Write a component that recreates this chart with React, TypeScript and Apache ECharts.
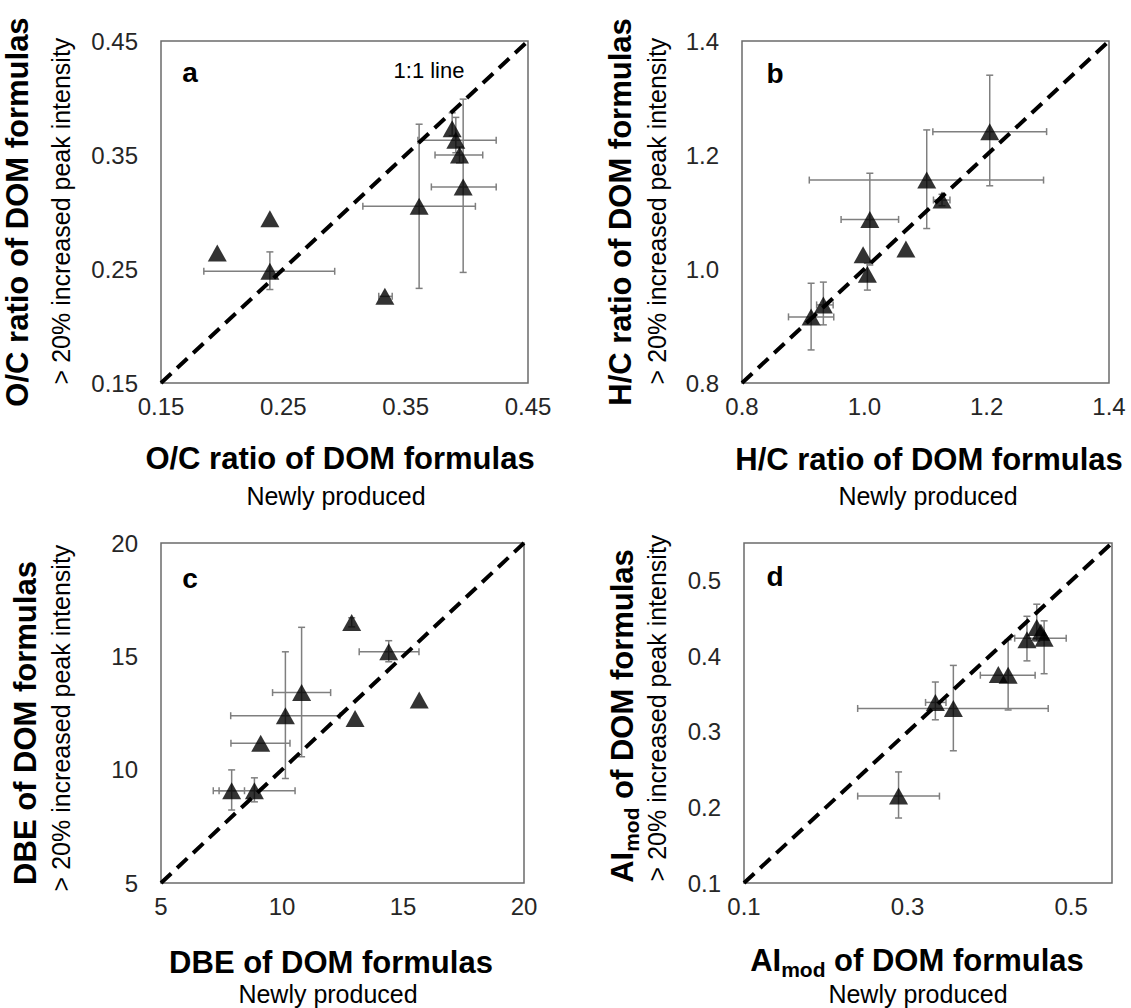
import React, { useEffect, useRef } from "react";
import * as echarts from "echarts";

// Panel a: O/C ratio
const aX = [0.196, 0.239, 0.239, 0.333, 0.361, 0.397, 0.394, 0.391, 0.388];
const aY = [0.264, 0.294, 0.248, 0.226, 0.305, 0.322, 0.35, 0.363, 0.373];
const aXLo = [null, null, 0.185, 0.328, 0.315, 0.371, 0.374, 0.36, null];
const aXHi = [null, null, 0.292, 0.339, 0.407, 0.424, 0.413, 0.424, null];
const aYLo = [null, null, 0.232, null, 0.233, 0.247, 0.343, 0.352, 0.367];
const aYHi = [null, null, 0.265, null, 0.377, 0.399, 0.357, 0.383, 0.387];

// Panel b: H/C ratio
const bX = [1.205, 1.102, 1.127, 1.009, 0.998, 1.068, 1.005, 0.933, 0.913];
const bY = [1.241, 1.156, 1.121, 1.087, 1.025, 1.035, 0.991, 0.937, 0.916];
const bXLo = [1.112, 0.91, 1.113, 0.962, null, null, null, 0.922, 0.876];
const bXHi = [1.298, 1.293, 1.14, 1.056, null, null, null, 0.949, 0.95];
const bYLo = [1.146, 1.071, 1.111, 1.007, null, null, 0.963, 0.902, 0.858];
const bYHi = [1.34, 1.244, 1.131, 1.168, null, null, 1.01, 0.977, 0.975];

// Panel c: DBE
const cX = [12.88, 14.41, 15.67, 13.02, 10.81, 10.14, 9.12, 7.92, 8.86];
const cY = [16.49, 15.2, 13.07, 12.26, 13.4, 12.38, 11.16, 9.07, 9.07];
const cXLo = [null, 13.19, null, null, 9.61, 7.88, 7.89, 7.4, 7.16];
const cXHi = [null, 15.66, null, null, 12.01, 12.4, 10.33, 8.45, 10.54];
const cYLo = [16.3, 14.76, null, null, 10.57, 9.61, null, 8.22, 8.58];
const cYHi = [16.7, 15.69, null, null, 16.28, 15.2, null, 9.99, 9.64];

// Panel d: AImod
const dX = [0.289, 0.334, 0.356, 0.411, 0.423, 0.446, 0.458, 0.467, 0.463];
const dY = [0.215, 0.339, 0.331, 0.376, 0.375, 0.422, 0.438, 0.424, 0.432];
const dXLo = [0.239, 0.322, 0.239, null, 0.389, null, null, 0.431, null];
const dXHi = [0.339, 0.347, 0.472, null, 0.456, null, null, 0.494, null];
const dYLo = [0.186, 0.316, 0.275, null, 0.329, 0.394, 0.42, 0.377, null];
const dYHi = [0.247, 0.366, 0.388, null, 0.422, 0.453, 0.469, 0.447, null];

// Axis ranges / ticks [min, max, interval]
const aRange = [0.15, 0.45, 0.1];
const bRange = [0.8, 1.4, 0.2];
const cRange = [5, 20, 5];
const dXRange = [0.1, 0.55, 0.2];
const dYRange = [0.1, 0.55, 0.1];

const FONT = '"Liberation Sans", Arial, Helvetica, sans-serif';

type Panel = {
  x: number[]; y: number[];
  xlo: (number | null)[]; xhi: (number | null)[];
  ylo: (number | null)[]; yhi: (number | null)[];
  xr: number[]; yr: number[]; dec: number; hideMax: boolean;
  grid: { left: number; top: number; width: number; height: number };
};

const panels: Panel[] = [
  { x: aX, y: aY, xlo: aXLo, xhi: aXHi, ylo: aYLo, yhi: aYHi, xr: aRange, yr: aRange, dec: 2, hideMax: false,
    grid: { left: 161, top: 41, width: 367, height: 342 } },
  { x: bX, y: bY, xlo: bXLo, xhi: bXHi, ylo: bYLo, yhi: bYHi, xr: bRange, yr: bRange, dec: 1, hideMax: false,
    grid: { left: 742, top: 41, width: 367, height: 342 } },
  { x: cX, y: cY, xlo: cXLo, xhi: cXHi, ylo: cYLo, yhi: cYHi, xr: cRange, yr: cRange, dec: 0, hideMax: false,
    grid: { left: 161, top: 543, width: 363, height: 340 } },
  { x: dX, y: dY, xlo: dXLo, xhi: dXHi, ylo: dYLo, yhi: dYHi, xr: dXRange, yr: dYRange, dec: 1, hideMax: true,
    grid: { left: 744, top: 543, width: 368, height: 340 } },
];

function buildOption() {
  const grids: any[] = [];
  const xAxes: any[] = [];
  const yAxes: any[] = [];
  const series: any[] = [];
  const labelStyle = { fontSize: 24, fontFamily: FONT, color: "#262626" };

  panels.forEach((p, i) => {
    grids.push({ ...p.grid, show: true, borderColor: "#6b6b6b", borderWidth: 1.5, backgroundColor: "#fff" });
    xAxes.push({
      gridIndex: i, type: "value", min: p.xr[0], max: p.xr[1], interval: p.xr[2],
      axisLine: { show: false }, axisTick: { show: false }, splitLine: { show: false },
      axisLabel: { ...labelStyle, margin: 11, showMaxLabel: !p.hideMax,
        formatter: (v: number) => v.toFixed(p.dec) },
    });
    yAxes.push({
      gridIndex: i, type: "value", min: p.yr[0], max: p.yr[1], interval: p.yr[2],
      axisLine: { show: false }, axisTick: { show: false }, splitLine: { show: false },
      axisLabel: { ...labelStyle, margin: 23, showMaxLabel: !p.hideMax,
        formatter: (v: number) => v.toFixed(p.dec) },
    });
    const lo = Math.min(p.xr[0], p.yr[0]);
    const hi = Math.max(p.xr[1], p.yr[1]);
    series.push({
      type: "line", xAxisIndex: i, yAxisIndex: i, data: [[lo, lo], [hi, hi]],
      showSymbol: false, symbol: "none", silent: true, z: 3,
      lineStyle: { color: "#000", width: 4, type: [14, 8] },
    });
    series.push({
      type: "custom", xAxisIndex: i, yAxisIndex: i, z: 2, silent: true,
      data: p.x.map((v, k) => [v, p.y[k]]),
      renderItem: (params: any, api: any) => {
        const k = params.dataIndex;
        const style = { stroke: "#7f7f7f", lineWidth: 1.5 };
        const ch: any[] = [];
        const cap = 3.5;
        const xv = p.x[k], yv = p.y[k];
        if (p.xlo[k] != null && p.xhi[k] != null) {
          const a = api.coord([p.xlo[k], yv]);
          const b = api.coord([p.xhi[k], yv]);
          ch.push({ type: "line", shape: { x1: a[0], y1: a[1], x2: b[0], y2: b[1] }, style });
          ch.push({ type: "line", shape: { x1: a[0], y1: a[1] - cap, x2: a[0], y2: a[1] + cap }, style });
          ch.push({ type: "line", shape: { x1: b[0], y1: b[1] - cap, x2: b[0], y2: b[1] + cap }, style });
        }
        if (p.ylo[k] != null && p.yhi[k] != null) {
          const a = api.coord([xv, p.ylo[k]]);
          const b = api.coord([xv, p.yhi[k]]);
          ch.push({ type: "line", shape: { x1: a[0], y1: a[1], x2: b[0], y2: b[1] }, style });
          ch.push({ type: "line", shape: { x1: a[0] - cap, y1: a[1], x2: a[0] + cap, y2: a[1] }, style });
          ch.push({ type: "line", shape: { x1: b[0] - cap, y1: b[1], x2: b[0] + cap, y2: b[1] }, style });
        }
        return { type: "group", children: ch };
      },
    });
    series.push({
      type: "scatter", xAxisIndex: i, yAxisIndex: i, z: 4,
      data: p.x.map((v, k) => [v, p.y[k]]),
      symbol: "triangle", symbolSize: [19, 17],
      itemStyle: { color: "#000" },
    });
  });

  const txt = (x: number, y: number, text: string, font: string, rot = 0, extra: any = {}) => ({
    type: "text", x, y, rotation: rot, silent: true,
    style: { text, font, fill: "#000", align: "center", verticalAlign: "middle",
      textAlign: "center", textVerticalAlign: "middle", ...extra },
  });
  const TB = `bold 31px ${FONT}`;
  const TS = `25px ${FONT}`;
  const TL = `bold 28px ${FONT}`;
  const R = Math.PI / 2;
  const aiStyle = {
    text: "{a|AI}{s|mod}{a| of DOM formulas}",
    fill: "#000",
    align: "center", verticalAlign: "middle", textAlign: "center", textVerticalAlign: "middle",
    rich: {
      a: { fontSize: 31, fontWeight: "bold", fontFamily: FONT, fill: "#000", lineHeight: 40 },
      s: { fontSize: 21, fontWeight: "bold", fontFamily: FONT, fill: "#000", lineHeight: 21, verticalAlign: "bottom" },
    },
  };

  const graphic = [
    // x titles
    txt(340, 458, "O/C ratio of DOM formulas", TB),
    txt(336, 496, "Newly produced", TS),
    txt(929, 459, "H/C ratio of DOM formulas", TB),
    txt(928, 496, "Newly produced", TS),
    txt(331, 962, "DBE of DOM formulas", TB),
    txt(328, 994, "Newly produced", TS),
    { type: "text", x: 917, y: 960, silent: true, style: { ...aiStyle } },
    txt(918, 994, "Newly produced", TS),
    // y titles
    txt(17, 212, "O/C ratio of DOM formulas", TB, R),
    txt(61, 211, "> 20% increased peak intensity", TS, R),
    txt(620, 212, "H/C ratio of DOM formulas", TB, R),
    txt(657, 211, "> 20% increased peak intensity", TS, R),
    txt(25, 723, "DBE of DOM formulas", TB, R),
    txt(61, 718, "> 20% increased peak intensity", TS, R),
    { type: "text", x: 622, y: 716, rotation: R, silent: true, style: { ...aiStyle } },
    txt(657, 708, "> 20% increased peak intensity", TS, R),
    // panel letters
    txt(190, 72, "a", TL),
    txt(775, 73, "b", TL),
    txt(190, 578, "c", TL),
    txt(775, 576, "d", TL),
    // 1:1 line label
    txt(429, 70, "1:1 line", `22px ${FONT}`),
  ];

  return {
    animation: false,
    backgroundColor: "#fff",
    grid: grids,
    xAxis: xAxes,
    yAxis: yAxes,
    series,
    graphic,
  };
}

export default function App() {
  const ref = useRef<HTMLDivElement>(null);
  useEffect(() => {
    document.body.style.margin = "0";
    if (!ref.current) return;
    const chart = echarts.init(ref.current, undefined, { renderer: "svg" });
    chart.setOption(buildOption() as any);
    return () => chart.dispose();
  }, []);
  return <div ref={ref} style={{ width: 1131, height: 1008 }} />;
}
